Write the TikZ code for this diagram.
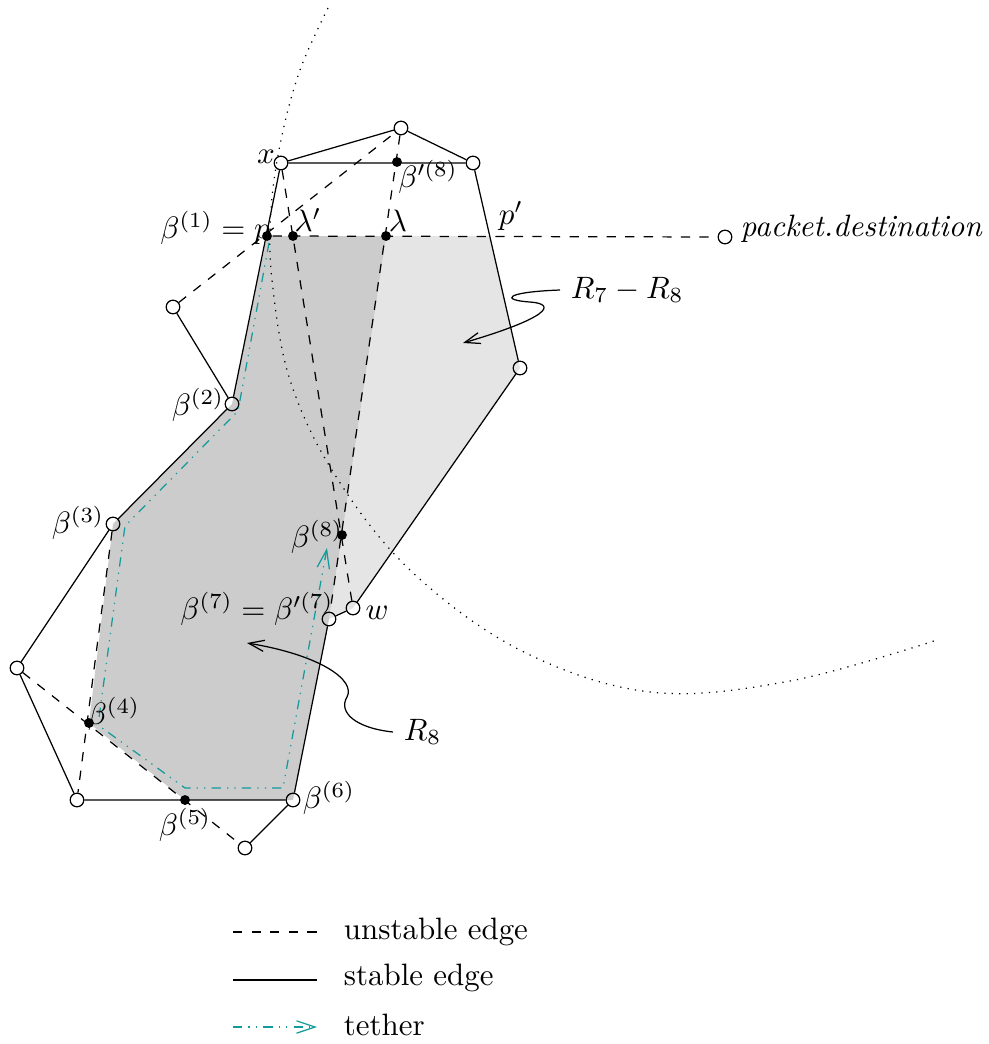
\documentclass[tikz,border=0pt]{standalone}
\usepackage{amsmath,amssymb}
\usepackage{xcolor}
\usetikzlibrary{arrows.meta,backgrounds}
\definecolor{tetherteal}{HTML}{139A9A}
\definecolor{shadedark}{HTML}{CCCCCC}
\definecolor{shadelight}{HTML}{E5E5E5}

\begin{document}
\begin{tikzpicture}[x=0.3233pt, y=-0.3233pt,
    >={Straight Barb[length=5pt,width=3.6pt]},
    vtx/.style={circle, draw, inner sep=0pt, minimum size=4.4pt},
    hit/.style={circle, fill, inner sep=0pt, minimum size=3.2pt},
    unstable/.style={dashed},
    tether/.style={tetherteal, dash dot dot, -{Straight Barb[length=6pt,width=4pt]}}]
  \useasboundingbox (0,0) rectangle (989,1044);

  % ---------------- vertices of the two faces ----------------
  \node[vtx] (x)    at (281,163) {};
  \node[vtx] (vtop) at (401,128) {};
  \node[vtx] (vtr)  at (473,163) {};
  \node[vtx] (vr)   at (520,368) {};
  \node[vtx] (vl)   at (173,307) {};
  \node[vtx] (b2)   at (232,404) {};
  \node[vtx] (b3)   at (113,524) {};
  \node[vtx] (vfl)  at (17,668) {};
  \node[vtx] (vbl)  at (77,800) {};
  \node[vtx] (b6)   at (293,800) {};
  \node[vtx] (vbot) at (245,848) {};
  \node[vtx] (b7)   at (329,619) {};
  \node[vtx] (w)    at (353,608) {};
  \node[vtx] (dest) at (725,237) {};

  % crossing points
  \node[hit] (p)    at (267,236) {};
  \node[hit] (lamp) at (293,236) {};
  \node[hit] (lam)  at (386,236) {};
  \node[hit] (b8p)  at (397,162) {};
  \node[hit] (b8)   at (342,535) {};
  \node[hit] (b4)   at (89,723) {};
  \node[hit] (b5)   at (185,800) {};
  \coordinate (pp) at (490,236);

  % ---------------- regions R_8 and R_7 - R_8 ----------------
  \begin{scope}[on background layer]
    \fill[shadelight] (lam.center) -- (pp) -- (vr.center) -- (w.center)
      -- (b7.center) -- (b8.center) -- cycle;
    \fill[shadedark] (p.center) -- (lam.center) -- (b8.center) -- (b7.center)
      -- (b6.center) -- (b5.center) -- (b4.center) -- (b3.center)
      -- (b2.center) -- cycle;
  \end{scope}

  % dotted circle round the destination
  \draw[dotted] plot[smooth, tension=0.6] coordinates {(328,8) (300,70)
    (281,140) (271,210) (272,280) (290,380) (335,475) (410,570) (520,650)
    (650,692) (790,681) (937,640)};

  % tether
  \draw[tether] (269,243) -- (238,411) -- (125,526) -- (98,725)
    -- (185,788) -- (283,788) -- (327,548);

  % ---------------- edges ----------------
  \draw (x) -- (vtop) -- (vtr) -- (x);
  \draw (x) -- (b2) -- (b3) -- (vfl) -- (vbl) -- (b6) -- (vbot);
  \draw (vl) -- (b2);
  \draw (b6) -- (b7) -- (w) -- (vr) -- (vtr);
  \draw[unstable] (vl) -- (vtop);
  \draw[unstable] (vtop) -- (b7);
  \draw[unstable] (x) -- (w);
  \draw[unstable] (b3) -- (vbl);
  \draw[unstable] (vfl) -- (vbot);
  \draw[unstable] (p) -- (dest);

  % ---------------- labels ----------------
  \node (lx)    at (266,157) {$x$};
  \node (lb8p)  at (428,177) {$\beta'^{(8)}$};
  \node (lb1)   at (215,228) {$\beta^{(1)} = p$};
  \node (llamp) at (308,220) {$\lambda'$};
  \node (llam)  at (398,221) {$\lambda$};
  \node (lpp)   at (511,216) {$p'$};
  \node[anchor=west, inner sep=1pt] (ldest) at (737,229) {\textit{packet.destination}};
  \node (lb2)   at (198,405) {$\beta^{(2)}$};
  \node (lb3)   at (78,523)  {$\beta^{(3)}$};
  \node (lb8)   at (317,537) {$\beta^{(8)}$};
  \node (lb7)   at (257,609) {$\beta^{(7)} = \beta'^{(7)}$};
  \node (lw)    at (377,613) {$w$};
  \node (lb4)   at (114,714) {$\beta^{(4)}$};
  \node (lb5)   at (185,825) {$\beta^{(5)}$};
  \node (lb6)   at (329,798) {$\beta^{(6)}$};

  % region pointers
  \node[anchor=west] (r78) at (560,290) {$R_7 - R_8$};
  \node[anchor=west] (r8)  at (393,732) {$R_8$};
  \coordinate (r78tip) at (463,343);
  \coordinate (r8tip)  at (247,643);
  \draw[->] (r78.west) .. controls (505,292) and (500,300) .. (530,302)
    .. controls (558,304) and (548,318) .. (r78tip);
  \draw[->] (r8.west) .. controls (355,728) and (338,712) .. (347,697)
    .. controls (356,680) and (320,655) .. (r8tip);

  % ---------------- legend ----------------
  \coordinate (lg1) at (233,932);  \coordinate (lg1e) at (317,932);
  \coordinate (lg2) at (233,980);  \coordinate (lg2e) at (317,980);
  \coordinate (lg3) at (233,1027); \coordinate (lg3e) at (317,1027);
  \draw[unstable] (lg1) -- (lg1e);
  \draw (lg2) -- (lg2e);
  \draw[tether] (lg3) -- (lg3e);
  \node[anchor=west] (lgt1) at (333,932)  {unstable edge};
  \node[anchor=west] (lgt2) at (333,978)  {stable edge};
  \node[anchor=west] (lgt3) at (333,1025) {tether};
\end{tikzpicture}
\end{document}
